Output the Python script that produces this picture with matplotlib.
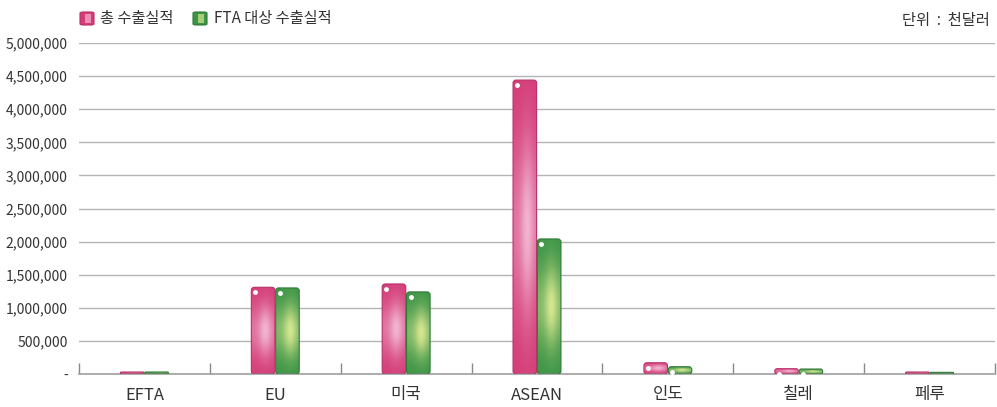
import matplotlib
matplotlib.use("Agg")
import matplotlib.pyplot as plt
import numpy as np
from matplotlib.patches import FancyBboxPatch, Rectangle
from matplotlib.colors import to_rgb

plt.rcParams['font.family'] = ['Noto Sans CJK KR', 'DejaVu Sans']

categories = ["EFTA", "EU", "미국", "ASEAN", "인도", "칠레", "페루"]
total_exports = [30000, 1310000, 1360000, 4440000, 170000, 80000, 30000]
fta_exports = [30000, 1300000, 1240000, 2040000, 110000, 75000, 25000]
series_names = ["총 수출실적", "FTA 대상 수출실적"]
y_ticks = [0, 500000, 1000000, 1500000, 2000000, 2500000, 3000000,
           3500000, 4000000, 4500000, 5000000]
unit_text = "단위  :  천달러"

pink = ("#d43c78", "#f2b4d0", "#b8306a")
green = ("#3c9446", "#d6e690", "#2f7a38")


def gradient_img(dark, light):
    d = np.array(to_rgb(dark))
    l = np.array(to_rgb(light))
    t = np.linspace(0, 1, 120)[:, None]
    s = np.linspace(0, 1, 30)[None, :]
    w = np.exp(-((t - 0.5) / 0.3) ** 2)
    w = w * (0.45 + 0.55 * np.exp(-((s - 0.6) / 0.28) ** 2))
    img = d[None, None, :] * (1 - w[..., None]) + l[None, None, :] * w[..., None]
    return img


fig = plt.figure(figsize=(9.97, 4.07), dpi=100)
ax = fig.add_axes([79 / 997, 1 - 374 / 407, (995 - 79) / 997, (374 - 43) / 407])
ax.set_xlim(0, len(categories))
ax.set_ylim(0, 5000000)

ax.set_yticks(y_ticks)
ax.set_yticklabels(["-" if v == 0 else f"{v:,}" for v in y_ticks],
                   fontsize=10, color="#333333")
ax.yaxis.grid(True, color="#b4b4b4", linewidth=1)
ax.set_axisbelow(True)
ax.tick_params(axis="y", length=0, pad=8)

ax.set_xticks(np.arange(len(categories) + 1))
ax.set_xticklabels([])
ax.set_xticks(np.arange(len(categories)) + 0.5, minor=True)
ax.set_xticklabels(categories, minor=True, fontsize=12, color="#333333")
ax.tick_params(axis="x", which="major", direction="in", length=8,
               color="#888888", width=1)
ax.tick_params(axis="x", which="minor", length=0, pad=9)

for side in ["top", "left", "right"]:
    ax.spines[side].set_visible(False)
ax.spines["bottom"].set_color("#a0a0a0")
ax.spines["bottom"].set_linewidth(1.2)

# data units per pixel
px_x = 1.0 / ((995 - 79) / len(categories))
px_y = 5000000 / (374 - 43)
aspect = px_y / px_x

bar_w = 0.18
gap = 0.006
for i in range(len(categories)):
    c = i + 0.5
    for vals, cols, x0 in ((total_exports, pink, c - gap / 2 - bar_w),
                           (fta_exports, green, c + gap / 2)):
        h = vals[i]
        r = min(3 * px_x, (h / 2) / aspect * 0.9)
        patch = FancyBboxPatch((x0, 0), bar_w, h,
                               boxstyle=f"round,pad=0,rounding_size={r}",
                               mutation_aspect=aspect,
                               facecolor="none", edgecolor=cols[2],
                               linewidth=0.8, zorder=3)
        ax.add_patch(patch)
        im = ax.imshow(gradient_img(cols[0], cols[1]), origin="lower",
                       extent=(x0, x0 + bar_w, 0, h), aspect="auto",
                       zorder=2, interpolation="bilinear")
        im.set_clip_path(patch)
        if h > 60000:
            ax.plot(x0 + 4 * px_x, h - 5 * px_y, "o", color="white",
                    markersize=2.5, zorder=4)

ax.set_xlim(0, len(categories))
ax.set_ylim(0, 5000000)


# legend
def swatch(xp, cols):
    x = xp / 997
    y = 1 - 25 / 407
    p = FancyBboxPatch((x, y), 14 / 997, 13 / 407,
                       boxstyle="round,pad=0,rounding_size=0.003",
                       transform=fig.transFigure, facecolor=cols[0],
                       edgecolor=cols[2], linewidth=0.8)
    fig.patches.append(p)
    fig.patches.append(Rectangle((x + 5 / 997, y + 2 / 407), 6 / 997, 9 / 407,
                                 transform=fig.transFigure,
                                 facecolor=cols[1], edgecolor="none",
                                 alpha=0.7))


swatch(80, pink)
fig.text(100 / 997, 1 - 18 / 407, series_names[0], fontsize=11,
         color="#333333", va="center")
swatch(193, green)
fig.text(214 / 997, 1 - 18 / 407, series_names[1], fontsize=11,
         color="#333333", va="center")
fig.text(990 / 997, 1 - 21 / 407, unit_text, fontsize=11,
         color="#333333", va="center", ha="right")

fig.savefig("out.png", dpi=100)
